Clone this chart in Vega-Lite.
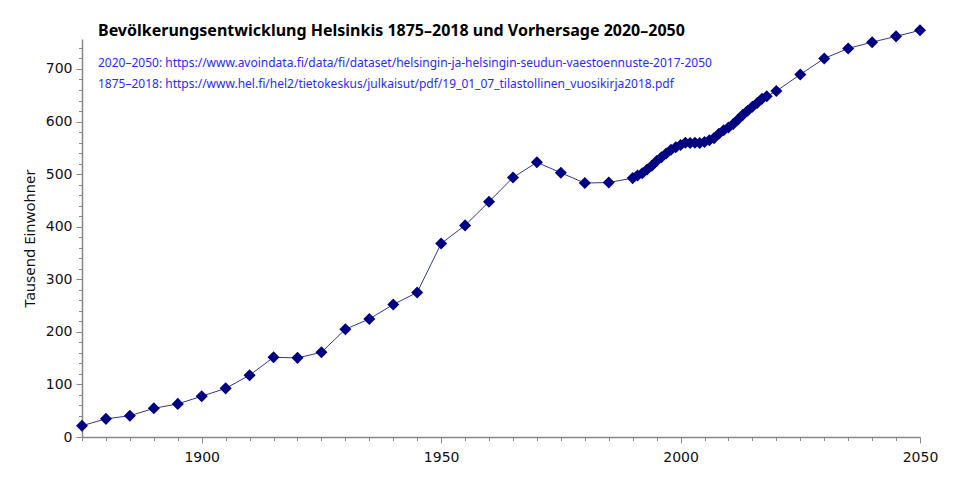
{
  "$schema": "https://vega.github.io/schema/vega-lite/v6.json",
  "autosize": "none",
  "padding": {"left": 82, "top": 39, "right": 40, "bottom": 47},
  "width": 838,
  "height": 398,
  "title": {
    "text": "Bevölkerungsentwicklung Helsinkis 1875–2018 und Vorhersage 2020–2050",
    "subtitle": [
      "2020–2050: https://www.avoindata.fi/data/fi/dataset/helsingin-ja-helsingin-seudun-vaestoennuste-2017-2050",
      "1875–2018: https://www.hel.fi/hel2/tietokeskus/julkaisut/pdf/19_01_07_tilastollinen_vuosikirja2018.pdf"
    ],
    "anchor": "start",
    "frame": "group",
    "dx": 16,
    "offset": -66,
    "font": "Noto Sans",
    "fontSize": 16,
    "fontWeight": "bold",
    "color": "#000",
    "subtitleFont": "Noto Sans",
    "subtitleFontSize": 12,
    "subtitleColor": "#2a2aff",
    "subtitleLineHeight": 21,
    "subtitlePadding": 19
  },
  "data": {
    "values": [
      {"year": 1875, "pop": 21.5},
      {"year": 1880, "pop": 34.5},
      {"year": 1885, "pop": 40.5},
      {"year": 1890, "pop": 54.5},
      {"year": 1895, "pop": 63},
      {"year": 1900, "pop": 77.5},
      {"year": 1905, "pop": 92.5},
      {"year": 1910, "pop": 117.5},
      {"year": 1915, "pop": 151.5},
      {"year": 1920, "pop": 150.5},
      {"year": 1925, "pop": 161},
      {"year": 1930, "pop": 205},
      {"year": 1935, "pop": 224.5},
      {"year": 1940, "pop": 252},
      {"year": 1945, "pop": 275},
      {"year": 1950, "pop": 368},
      {"year": 1955, "pop": 402.5},
      {"year": 1960, "pop": 447.5},
      {"year": 1965, "pop": 493.5},
      {"year": 1970, "pop": 522.5},
      {"year": 1975, "pop": 502.5},
      {"year": 1980, "pop": 483},
      {"year": 1985, "pop": 484},
      {"year": 1990, "pop": 492.4},
      {"year": 1991, "pop": 497.5},
      {"year": 1992, "pop": 501.5},
      {"year": 1993, "pop": 508.7},
      {"year": 1994, "pop": 515.8},
      {"year": 1995, "pop": 525},
      {"year": 1996, "pop": 532.1},
      {"year": 1997, "pop": 539.4},
      {"year": 1998, "pop": 546.3},
      {"year": 1999, "pop": 551.1},
      {"year": 2000, "pop": 555.5},
      {"year": 2001, "pop": 559.7},
      {"year": 2002, "pop": 559.3},
      {"year": 2003, "pop": 559.7},
      {"year": 2004, "pop": 559},
      {"year": 2005, "pop": 560.9},
      {"year": 2006, "pop": 564.5},
      {"year": 2007, "pop": 568.5},
      {"year": 2008, "pop": 576.6},
      {"year": 2009, "pop": 583.4},
      {"year": 2010, "pop": 588.5},
      {"year": 2011, "pop": 595.4},
      {"year": 2012, "pop": 604},
      {"year": 2013, "pop": 612.7},
      {"year": 2014, "pop": 620.7},
      {"year": 2015, "pop": 628.2},
      {"year": 2016, "pop": 635.2},
      {"year": 2017, "pop": 643.3},
      {"year": 2018, "pop": 648},
      {"year": 2020, "pop": 658},
      {"year": 2025, "pop": 689.5},
      {"year": 2030, "pop": 720},
      {"year": 2035, "pop": 739},
      {"year": 2040, "pop": 751},
      {"year": 2045, "pop": 762},
      {"year": 2050, "pop": 773.5}
    ]
  },
  "encoding": {
    "x": {
      "field": "year",
      "type": "quantitative",
      "scale": {"domain": [1875, 2050], "nice": false, "zero": false},
      "axis": {
        "title": null,
        "grid": false,
        "values": [1875, 1880, 1885, 1890, 1895, 1900, 1905, 1910, 1915, 1920, 1925, 1930, 1935, 1940, 1945, 1950, 1955, 1960, 1965, 1970, 1975, 1980, 1985, 1990, 1995, 2000, 2005, 2010, 2015, 2020, 2025, 2030, 2035, 2040, 2045, 2050],
        "labelExpr": "datum.value % 50 === 0 ? datum.value : ''",
        "tickSize": {"condition": {"test": "datum.value % 50 === 0", "value": 6}, "value": 3.5},
        "labelPadding": 7,
        "labelFlush": false,
        "labelOverlap": false
      }
    },
    "y": {
      "field": "pop",
      "type": "quantitative",
      "scale": {"domain": [0, 757], "nice": false},
      "axis": {
        "title": "Tausend Einwohner",
        "grid": false,
        "values": [0, 20, 40, 60, 80, 100, 120, 140, 160, 180, 200, 220, 240, 260, 280, 300, 320, 340, 360, 380, 400, 420, 440, 460, 480, 500, 520, 540, 560, 580, 600, 620, 640, 660, 680, 700, 720, 740],
        "labelExpr": "datum.value % 100 === 0 ? datum.value : ''",
        "tickSize": {"condition": {"test": "datum.value % 100 === 0", "value": 6}, "value": 3.5},
        "labelPadding": 4,
        "labelFlush": false,
        "labelOverlap": false,
        "titlePadding": 8
      }
    }
  },
  "layer": [
    {
      "mark": {"type": "line", "color": "#000080", "strokeWidth": 0.8, "clip": false}
    },
    {
      "mark": {"type": "point", "shape": "diamond", "filled": true, "color": "#000080", "opacity": 1, "size": 145, "clip": false}
    }
  ],
  "config": {
    "view": {"stroke": null},
    "axis": {
      "domainColor": "#888",
      "tickColor": "#888",
      "domainWidth": 1.5,
      "tickWidth": 1,
      "labelFont": "DejaVu Sans",
      "labelFontSize": 14,
      "labelColor": "#111",
      "titleFont": "Noto Sans",
      "titleFontSize": 15,
      "titleFontWeight": "normal",
      "titleColor": "#111"
    }
  }
}
